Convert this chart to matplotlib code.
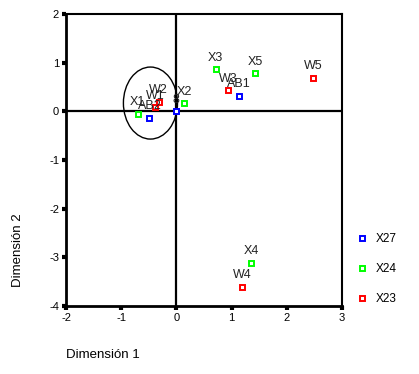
import matplotlib
matplotlib.use("Agg")
import matplotlib.pyplot as plt
from matplotlib.patches import Ellipse
from matplotlib.lines import Line2D

plt.rcParams['font.family'] = ['Liberation Sans', 'DejaVu Sans']
plt.rcParams['axes.unicode_minus'] = False

# Series X27 (blue)
x27_labels = ["AB1", "AB2", "8"]
x27_x = [1.14, -0.49, 0.0]
x27_y = [0.32, -0.13, 0.0]
# Series X24 (green)
x24_labels = ["X1", "X2", "X3", "X4", "X5"]
x24_x = [-0.70, 0.14, 0.71, 1.36, 1.43]
x24_y = [-0.05, 0.17, 0.87, -3.11, 0.79]
# Series X23 (red)
x23_labels = ["W1", "W2", "W3", "W4", "W5"]
x23_x = [-0.38, -0.32, 0.94, 1.19, 2.48]
x23_y = [0.09, 0.20, 0.44, -3.60, 0.69]

series = [("X27", "#0000ff", x27_labels, x27_x, x27_y),
          ("X24", "#00ff00", x24_labels, x24_x, x24_y),
          ("X23", "#ff0000", x23_labels, x23_x, x23_y)]

xticks = [-2, -1, 0, 1, 2, 3]
yticks = [-4, -3, -2, -1, 0, 1, 2]

fig = plt.figure(figsize=(4.19, 3.74), dpi=100)
ax = fig.add_axes([66/419, 1-306/374, (342-66)/419, (306-14)/374])
ax.set_xlim(-2, 3)
ax.set_ylim(-4, 2)

ax.axhline(0, color='black', lw=1.6, zorder=1)
ax.axvline(0, color='black', lw=1.6, zorder=1)

for name, col, labs, xs, ys in series:
    ax.plot(xs, ys, linestyle='none', marker='s', markersize=3.6,
            markerfacecolor='white', markeredgecolor=col, markeredgewidth=1.4, zorder=3)
    for lab, x, y in zip(labs, xs, ys):
        ax.text(x, y + 0.11, lab, ha='center', va='bottom', fontsize=9, color='#222222', zorder=4)

ax.add_patch(Ellipse((-0.47, 0.17), 0.98, 1.48, fill=False, edgecolor='black', lw=1.0, zorder=2))

ax.set_xticks(xticks)
ax.set_yticks(yticks)
ax.tick_params(direction='out', length=3, width=3, labelsize=8, pad=2)
for s in ['left', 'bottom']:
    ax.spines[s].set_linewidth(2)
for s in ['top', 'right']:
    ax.spines[s].set_linewidth(1.5)

fig.text(66/419, 1-355/374, "Dimensión 1", ha='left', va='center', fontsize=9.5)
fig.text(18/419, 1-250/374, "Dimensión 2", ha='center', va='center', rotation=90, fontsize=9.5)

handles = [Line2D([], [], linestyle='none', marker='s', markersize=3.6, markerfacecolor='white',
                  markeredgecolor=c, markeredgewidth=1.4, label=n) for n, c, *_ in series]
fig.legend(handles=handles, loc='center left', bbox_to_anchor=(345/419, 1-269/374),
           frameon=False, fontsize=8.5, labelspacing=1.55, handletextpad=0.7, handlelength=1.0)

fig.savefig("out.png", dpi=100)
